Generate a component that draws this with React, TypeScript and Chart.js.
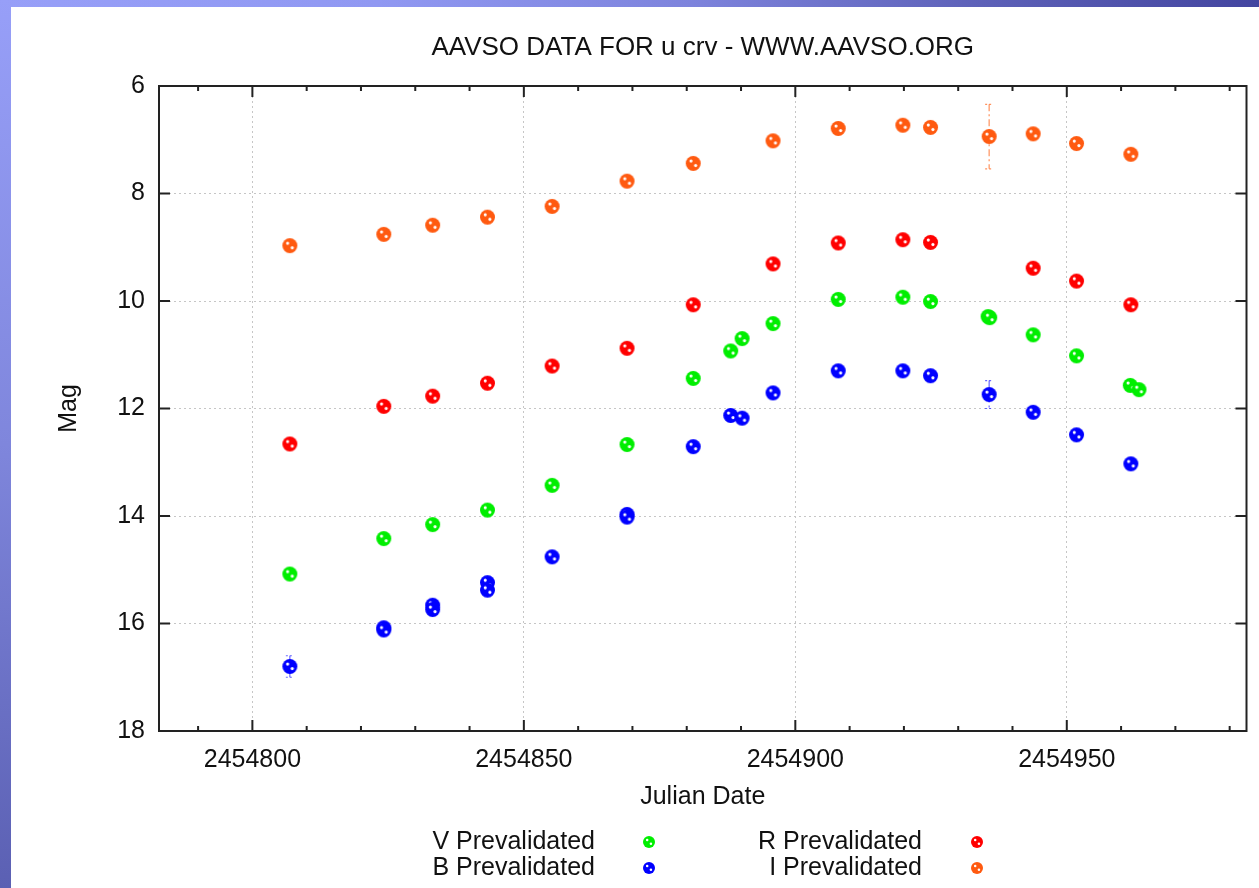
import React, { useEffect, useRef } from "react";
import { Chart, registerables } from "chart.js";

Chart.register(...registerables);

const FONT = '"Liberation Sans", Arial, Helvetica, sans-serif';
const TITLE = "AAVSO DATA FOR u crv - WWW.AAVSO.ORG";
const X_TITLE = "Julian Date";
const Y_TITLE = "Mag";

const X_MIN = 2454782.8;
const X_MAX = 2454983.1;
const Y_MIN = 6;
const Y_MAX = 18;

const xTickValues = [
  2454790, 2454800, 2454810, 2454820, 2454830, 2454840, 2454850, 2454860, 2454870, 2454880,
  2454890, 2454900, 2454910, 2454920, 2454930, 2454940, 2454950, 2454960, 2454970, 2454980,
];
const xLabelValues = [2454800, 2454850, 2454900, 2454950];
const yTickValues = [6, 8, 10, 12, 14, 16, 18];

const seriesLabels = ["V Prevalidated", "B Prevalidated", "R Prevalidated", "I Prevalidated"];
const seriesColors = ["#00ee00", "#0000ff", "#ff0000", "#ff5a10"];
const errorColors = ["rgba(0,238,0,0.6)", "rgba(40,40,255,0.7)", "rgba(255,0,0,0.6)", "rgba(255,110,40,0.75)"];

// V band
const vJD = [
  2454806.9, 2454824.2, 2454833.2, 2454843.3, 2454855.2, 2454869.0, 2454881.2, 2454888.1, 2454890.2,
  2454895.9, 2454907.9, 2454919.8, 2454924.9, 2454935.5, 2454935.8, 2454943.8, 2454951.8, 2454961.7,
  2454963.3,
];
const vMag = [
  15.08, 14.42, 14.16, 13.89, 13.43, 12.67, 11.44, 10.93, 10.7,
  10.42, 9.97, 9.93, 10.01, 10.29, 10.31, 10.63, 11.02, 11.57,
  11.65,
];
const vErr = [0, 0, 0, 0, 0, 0, 0, 0, 0, 0, 0, 0, 0, 0, 0, 0, 0, 0, 0];

// B band
const bJD = [
  2454806.9, 2454824.2, 2454824.2, 2454833.2, 2454833.2, 2454843.3, 2454843.3, 2454855.2, 2454869.0,
  2454869.0, 2454881.2, 2454888.1, 2454890.2, 2454895.9, 2454907.9, 2454919.8, 2454924.9, 2454935.7,
  2454943.8, 2454951.8, 2454961.8,
];
const bMag = [
  16.8, 16.08, 16.12, 15.66, 15.74, 15.24, 15.38, 14.76, 13.97,
  14.02, 12.71, 12.13, 12.18, 11.71, 11.3, 11.3, 11.39, 11.74,
  12.07, 12.49, 13.03,
];
const bErr = [0.2, 0, 0, 0, 0, 0, 0, 0, 0, 0, 0, 0, 0, 0, 0, 0, 0, 0.26, 0, 0, 0];

// R band
const rJD = [
  2454806.9, 2454824.2, 2454833.2, 2454843.3, 2454855.2, 2454869.0, 2454881.2, 2454895.9, 2454907.9,
  2454919.8, 2454924.9, 2454943.8, 2454951.8, 2454961.8,
];
const rMag = [12.66, 11.96, 11.77, 11.53, 11.21, 10.88, 10.07, 9.31, 8.92, 8.86, 8.91, 9.39, 9.63, 10.07];
const rErr = [0, 0, 0, 0, 0, 0, 0, 0, 0, 0, 0, 0, 0, 0];

// I band
const iJD = [
  2454806.9, 2454824.2, 2454833.2, 2454843.3, 2454855.2, 2454869.0, 2454881.2, 2454895.9, 2454907.9,
  2454919.8, 2454924.9, 2454935.7, 2454943.8, 2454951.8, 2454961.8,
];
const iMag = [8.97, 8.76, 8.59, 8.44, 8.24, 7.77, 7.44, 7.02, 6.79, 6.73, 6.77, 6.94, 6.89, 7.07, 7.27];
const iErr = [0, 0, 0, 0, 0, 0, 0, 0, 0, 0, 0, 0.6, 0, 0, 0];

const seriesJD = [vJD, bJD, rJD, iJD];
const seriesMag = [vMag, bMag, rMag, iMag];
const seriesErr = [vErr, bErr, rErr, iErr];

function makeDot(color: string, r: number): HTMLCanvasElement {
  const c = document.createElement("canvas");
  const s = Math.ceil(2 * r + 2);
  c.width = s;
  c.height = s;
  const g = c.getContext("2d")!;
  const m = s / 2;
  g.fillStyle = color;
  g.beginPath();
  g.arc(m, m, r, 0, Math.PI * 2);
  g.fill();
  g.fillStyle = "#ffffff";
  g.beginPath();
  g.arc(m - r * 0.3, m - r * 0.32, r * 0.21, 0, Math.PI * 2);
  g.fill();
  g.beginPath();
  g.arc(m + r * 0.32, m + r * 0.28, r * 0.21, 0, Math.PI * 2);
  g.fill();
  return c;
}

const isMajorX = (v: number) => xLabelValues.some((l) => Math.abs(l - v) < 1e-6);

export default function App() {
  const canvasRef = useRef<HTMLCanvasElement | null>(null);

  useEffect(() => {
    const canvas = canvasRef.current;
    if (!canvas) return;
    const bigDots = seriesColors.map((c) => makeDot(c, 7.5));
    const smallDots = seriesColors.map((c) => makeDot(c, 6));

    const errorBarPlugin = {
      id: "errorBars",
      beforeDatasetsDraw(chart: any) {
        const { ctx, scales } = chart;
        ctx.save();
        ctx.lineWidth = 1.2;
        seriesErr.forEach((errs, si) => {
          ctx.strokeStyle = errorColors[si];
          errs.forEach((e, j) => {
            if (!e) return;
            const px = scales.x.getPixelForValue(seriesJD[si][j]);
            const y1 = scales.y.getPixelForValue(seriesMag[si][j] - e);
            const y2 = scales.y.getPixelForValue(seriesMag[si][j] + e);
            ctx.setLineDash([7, 3, 2, 3]);
            ctx.beginPath();
            ctx.moveTo(px, y1);
            ctx.lineTo(px, y2);
            ctx.stroke();
            ctx.setLineDash([2, 2]);
            ctx.beginPath();
            ctx.moveTo(px - 4, y1);
            ctx.lineTo(px + 4, y1);
            ctx.moveTo(px - 4, y2);
            ctx.lineTo(px + 4, y2);
            ctx.stroke();
          });
        });
        ctx.restore();
      },
    };

    const framePlugin = {
      id: "frameTicks",
      afterDatasetsDraw(chart: any) {
        const { ctx, chartArea: a, scales } = chart;
        ctx.save();
        ctx.strokeStyle = "#222";
        ctx.lineWidth = 2;
        ctx.setLineDash([]);
        ctx.strokeRect(a.left, a.top, a.right - a.left, a.bottom - a.top);
        ctx.beginPath();
        xTickValues.forEach((v) => {
          const px = scales.x.getPixelForValue(v);
          const len = isMajorX(v) ? 11 : 5;
          ctx.moveTo(px, a.bottom);
          ctx.lineTo(px, a.bottom - len);
          ctx.moveTo(px, a.top);
          ctx.lineTo(px, a.top + len);
        });
        yTickValues.forEach((v) => {
          const py = scales.y.getPixelForValue(v);
          ctx.moveTo(a.left, py);
          ctx.lineTo(a.left + 11, py);
          ctx.moveTo(a.right, py);
          ctx.lineTo(a.right - 11, py);
        });
        ctx.stroke();
        ctx.restore();
      },
    };

    const titleLegendPlugin = {
      id: "titleLegend",
      afterDraw(chart: any) {
        const { ctx, chartArea: a } = chart;
        ctx.save();
        ctx.fillStyle = "#111";
        ctx.font = `26px ${FONT}`;
        ctx.textAlign = "center";
        ctx.textBaseline = "middle";
        ctx.fillText(TITLE, (a.left + a.right) / 2, 41);
        ctx.font = `25px ${FONT}`;
        const textRight = [584, 911];
        const markX = [638, 966];
        const rows = [835, 861];
        ctx.textAlign = "right";
        seriesLabels.forEach((label, k) => {
          const col = Math.floor(k / 2);
          const row = k % 2;
          ctx.fillText(label, textRight[col], rows[row]);
          const img = smallDots[k];
          ctx.drawImage(img, markX[col] - img.width / 2, rows[row] - img.height / 2);
        });
        ctx.restore();
      },
    };

    const chart = new Chart(canvas, {
      type: "scatter",
      data: {
        datasets: seriesLabels.map((label, i) => ({
          label,
          data: seriesJD[i].map((x, j) => ({ x, y: seriesMag[i][j] })),
          pointStyle: bigDots[i] as any,
          pointRadius: 7.5,
          backgroundColor: seriesColors[i],
          borderColor: seriesColors[i],
          showLine: false,
        })),
      },
      options: {
        responsive: false,
        animation: false,
        events: [],
        layout: { padding: { left: 0, top: 79, right: 12.5, bottom: 0 } },
        plugins: {
          legend: { display: false },
          tooltip: { enabled: false },
          title: { display: false },
        },
        scales: {
          x: {
            type: "linear",
            min: X_MIN,
            max: X_MAX,
            afterBuildTicks: (scale: any) => {
              scale.ticks = xTickValues.map((value) => ({ value }));
            },
            afterFit: (scale: any) => {
              scale.height = 157;
            },
            grid: {
              color: (ctx: any) => (ctx.tick && isMajorX(ctx.tick.value) ? "#c6c6c6" : "rgba(0,0,0,0)"),
              lineWidth: 1,
              drawTicks: false,
            },
            border: { display: false, dash: [2, 3] },
            ticks: {
              autoSkip: false,
              maxRotation: 0,
              padding: 14,
              color: "#111",
              font: { family: FONT, size: 25 },
              callback: (value: any) => (isMajorX(Number(value)) ? String(Math.round(Number(value))) : ""),
            },
            title: {
              display: true,
              text: X_TITLE,
              color: "#111",
              font: { family: FONT, size: 25 },
              padding: { top: 0, bottom: 76 },
            },
          },
          y: {
            type: "linear",
            reverse: true,
            min: Y_MIN,
            max: Y_MAX,
            afterBuildTicks: (scale: any) => {
              scale.ticks = yTickValues.map((value) => ({ value }));
            },
            afterFit: (scale: any) => {
              scale.width = 148;
            },
            grid: { color: "#c6c6c6", lineWidth: 1, drawTicks: false },
            border: { display: false, dash: [2, 3] },
            ticks: {
              padding: 14,
              color: "#111",
              font: { family: FONT, size: 25 },
              callback: (value: any) => String(value),
            },
            title: {
              display: true,
              text: Y_TITLE,
              color: "#111",
              font: { family: FONT, size: 25 },
              padding: { top: 43, bottom: 0 },
            },
          },
        },
      },
      plugins: [errorBarPlugin, framePlugin, titleLegendPlugin],
    } as any);

    return () => chart.destroy();
  }, []);

  return (
    <div
      style={{
        position: "fixed",
        left: 0,
        top: 0,
        width: 1259,
        height: 888,
        overflow: "hidden",
        background:
          "linear-gradient(to right, #979ff8 0%, #9098f2 30%, #7d83dc 55%, #5d61b8 78%, #4345a0 100%)",
      }}
    >
      <div
        style={{
          position: "absolute",
          left: 0,
          top: 0,
          width: 11,
          height: 888,
          background: "linear-gradient(to bottom, #979ff8 0%, #7f86dc 50%, #5b60b3 100%)",
        }}
      />
      <div
        style={{
          position: "absolute",
          left: 11,
          top: 7,
          width: 1248,
          height: 881,
          background: "#ffffff",
        }}
      >
        <canvas ref={canvasRef} width={1248} height={881} style={{ display: "block" }} />
      </div>
    </div>
  );
}
